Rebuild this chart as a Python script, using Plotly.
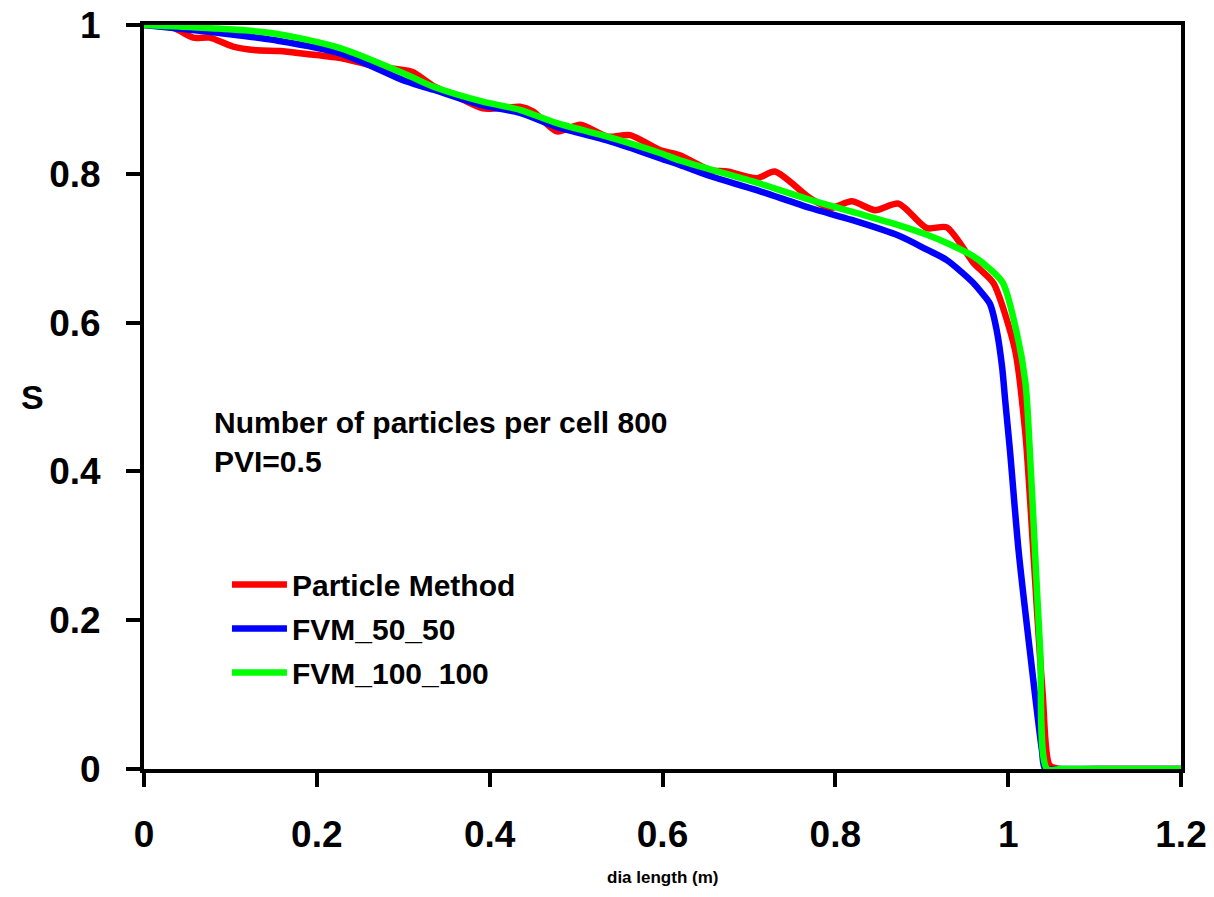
import plotly.graph_objects as go

# Particle Method
pm_x = [0, 0.034, 0.057, 0.076, 0.103, 0.131, 0.157, 0.188, 0.23, 0.27, 0.31, 0.335, 0.36, 0.392,
        0.42, 0.435, 0.45, 0.478, 0.505, 0.536, 0.5625, 0.597, 0.620, 0.655, 0.675, 0.709, 0.730,
        0.771, 0.794, 0.819, 0.846, 0.873, 0.906, 0.929, 0.96, 0.968, 0.983, 1.008, 1.02, 1.026,
        1.033, 1.04, 1.048, 1.06, 1.1, 1.15, 1.2]
pm_y = [1.0, 0.996, 0.983, 0.983, 0.971, 0.966, 0.965, 0.961, 0.955, 0.944, 0.937, 0.918, 0.905, 0.888,
        0.889, 0.890, 0.884, 0.857, 0.866, 0.850, 0.852, 0.832, 0.825, 0.805, 0.803, 0.794, 0.803,
        0.767, 0.754, 0.763, 0.751, 0.760, 0.727, 0.728, 0.680, 0.671, 0.653, 0.563, 0.45, 0.35,
        0.22, 0.10, 0.005, 0.0, 0.0, 0.0, 0.0]

# FVM_50_50
f50_x = [0, 0.034, 0.111, 0.149, 0.227, 0.304, 0.335, 0.392, 0.435, 0.478, 0.536, 0.5625, 0.597,
         0.620, 0.655, 0.709, 0.771, 0.819, 0.873, 0.906, 0.929, 0.96, 0.968, 0.979, 0.987, 0.993,
         0.9965, 1.002, 1.012, 1.025, 1.039, 1.043, 1.06, 1.1, 1.15, 1.2]
f50_y = [1.0, 0.996, 0.986, 0.980, 0.962, 0.924, 0.913, 0.892, 0.882, 0.863, 0.845, 0.835, 0.821,
         0.812, 0.797, 0.778, 0.754, 0.738, 0.717, 0.698, 0.684, 0.653, 0.642, 0.625, 0.588, 0.54,
         0.496, 0.429, 0.294, 0.16, 0.026, 0.0, 0.0, 0.0, 0.0, 0.0]

# FVM_100_100
f100_x = [0, 0.073, 0.149, 0.227, 0.304, 0.335, 0.392, 0.435, 0.478, 0.536, 0.5625, 0.597, 0.620,
          0.655, 0.709, 0.771, 0.819, 0.873, 0.906, 0.929, 0.96, 0.979, 0.994, 1.010, 1.020, 1.025,
          1.031, 1.037, 1.045, 1.06, 1.1, 1.15, 1.2]
f100_y = [1.0, 0.996, 0.989, 0.969, 0.933, 0.917, 0.897, 0.886, 0.868, 0.850, 0.841, 0.828, 0.818,
          0.806, 0.788, 0.765, 0.749, 0.731, 0.718, 0.707, 0.689, 0.672, 0.653, 0.586, 0.519, 0.429,
          0.294, 0.16, 0.0, 0.0, 0.0, 0.0, 0.0]

x_ticks = [0, 0.2, 0.4, 0.6, 0.8, 1, 1.2]
y_ticks = [0, 0.2, 0.4, 0.6, 0.8, 1]

FONT = "Liberation Sans, Arial, sans-serif"

fig = go.Figure()
fig.add_trace(go.Scatter(x=pm_x, y=pm_y, mode="lines", name="Particle Method",
                         line=dict(color="#FF0000", width=6.5, shape="spline", smoothing=0.7),
                         legendgroup="a"))
fig.add_trace(go.Scatter(x=f50_x, y=f50_y, mode="lines", name="FVM_50_50",
                         line=dict(color="#0000FF", width=6.5, shape="spline", smoothing=0.8),
                         legendgroup="b"))
fig.add_trace(go.Scatter(x=f100_x, y=f100_y, mode="lines", name="FVM_100_100",
                         line=dict(color="#00FF00", width=6.5, shape="spline", smoothing=0.8),
                         legendgroup="c"))

axis_common = dict(showline=True, linecolor="black", linewidth=4, mirror=True,
                   ticks="outside", ticklen=14, tickwidth=4, tickcolor="black",
                   showgrid=False, zeroline=False, layer="below traces", automargin=False,
                   tickfont=dict(family=FONT, size=37, color="black", weight="bold"))

fig.update_xaxes(range=[0, 1.2], tickvals=x_ticks, ticktext=[str(v) for v in x_ticks],
                 ticklabelstandoff=16, **axis_common)
fig.update_yaxes(range=[0, 1], tickvals=y_ticks, ticktext=[str(v) for v in y_ticks],
                 ticklabelstandoff=18, **axis_common)

# axis titles
fig.add_annotation(x=0.5, y=-0.1465, xref="paper", yref="paper", xanchor="center", yanchor="middle",
                   showarrow=False, text="dia length (m)",
                   font=dict(family=FONT, size=17, color="black", weight="bold"))
fig.add_annotation(x=-0.108, y=0.5, xref="paper", yref="paper", xanchor="center", yanchor="middle",
                   showarrow=False, text="S",
                   font=dict(family=FONT, size=34, color="black", weight="bold"))

fig.add_annotation(x=0.066, y=0.44, xref="paper", yref="paper", xanchor="left", yanchor="middle",
                   align="left", showarrow=False,
                   text="Number of particles per cell 800<br>PVI=0.5",
                   font=dict(family=FONT, size=30, color="black", weight="bold"))

fig.update_layout(
    width=1214, height=897,
    margin=dict(l=144, r=33, t=25, b=128, autoexpand=False),
    paper_bgcolor="white", plot_bgcolor="white",
    showlegend=True,
    legend=dict(x=0.08, y=0.283, xanchor="left", yanchor="top", bgcolor="rgba(0,0,0,0)",
                font=dict(family=FONT, size=30, color="black", weight="bold"),
                itemwidth=55, tracegroupgap=2),
)

fig.write_html("out.html")
